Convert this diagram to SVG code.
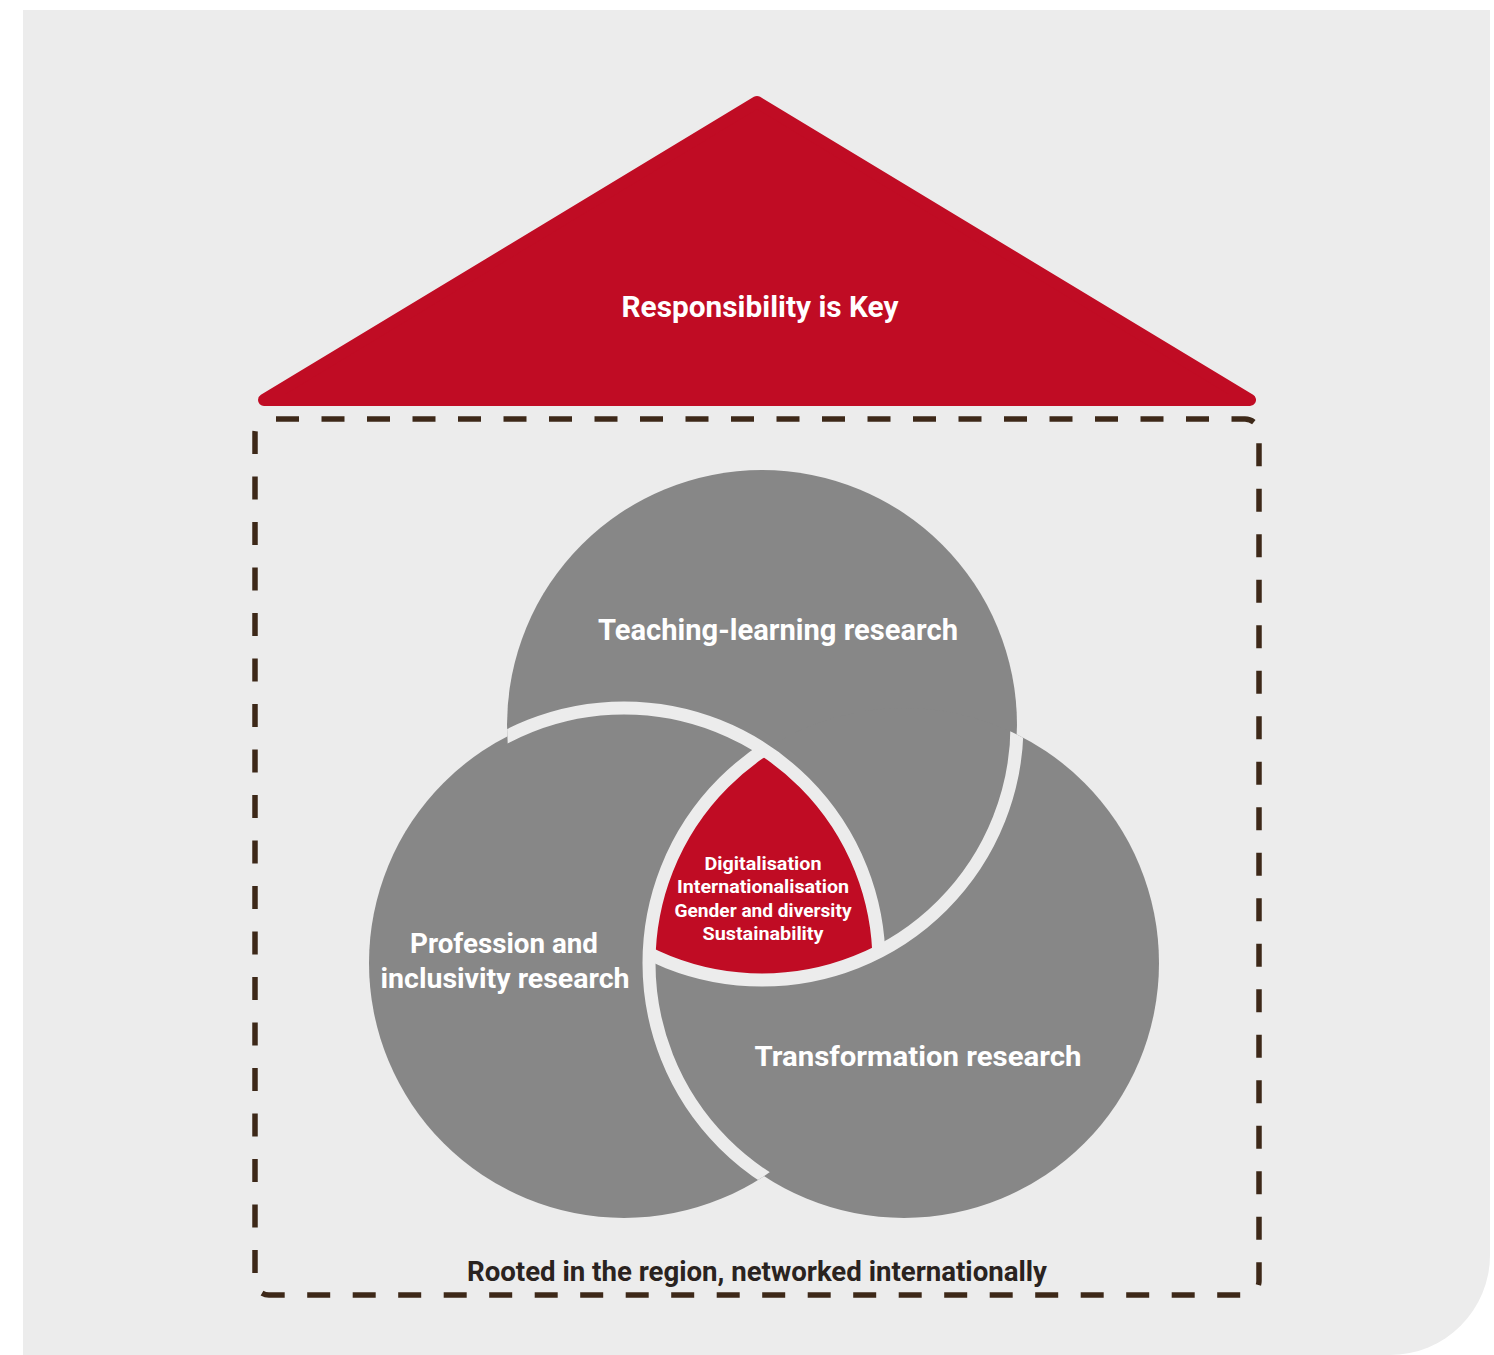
<svg xmlns="http://www.w3.org/2000/svg" width="1494" height="1355" viewBox="0 0 1494 1355">
  <style>
    .lbl { font-family: Roboto, "Liberation Sans", sans-serif; font-weight: 700; fill: #ffffff; text-anchor: middle; }
    .big { font-size: 30px; }
    .mid { font-size: 28px; }
    .small { font-size: 18px; }
    .foot { font-family: Roboto, "Liberation Sans", sans-serif; font-weight: 700; font-size: 27px; fill: #2a2320; text-anchor: middle; }
    .disc { fill: #878787; }
    .ring { fill: none; stroke: #ececec; stroke-width: 13; }
  </style>
  <defs>
    <clipPath id="in-top"><circle cx="762" cy="725" r="255"/></clipPath>
    <clipPath id="in-left"><circle cx="624" cy="963" r="255"/></clipPath>
    <clipPath id="in-right"><circle cx="904" cy="963" r="255"/></clipPath>
  </defs>

  <!-- page panel with rounded lower-right corner -->
  <path id="panel" d="M23,10 H1490 V1255 A100,100 0 0 1 1390,1355 H23 Z" fill="#ececec"/>

  <!-- roof -->
  <g id="roof">
    <polygon points="264,400 757,102 1250,400" fill="#c00c24" stroke="#c00c24" stroke-width="12" stroke-linejoin="round"/>
    <text class="lbl big" x="760" y="317" textLength="277" lengthAdjust="spacingAndGlyphs">Responsibility is Key</text>
  </g>

  <!-- dashed frame -->
  <g id="frame">
    <rect x="255" y="419" width="1004" height="876" rx="14" fill="none" stroke="#3d2818" stroke-width="5.5" stroke-dasharray="23 22.5" stroke-dashoffset="38.5"/>
    <text class="foot" x="757" y="1281" textLength="580" lengthAdjust="spacingAndGlyphs">Rooted in the region, networked internationally</text>
  </g>

  <!-- three interlocking research circles -->
  <g id="circle-teaching">
    <circle class="disc" cx="762" cy="725" r="255"/>
  </g>
  <g id="circle-profession">
    <circle class="disc" cx="624" cy="963" r="255"/>
  </g>
  <g id="circle-transformation">
    <circle class="disc" cx="904" cy="963" r="255"/>
  </g>

  <!-- shared core -->
  <g id="core">
    <path d="M764,749.9 A255,255 0 0 1 878.8,951.7 A255,255 0 0 1 649.2,953.7 A255,255 0 0 1 764,749.9 Z" fill="#c00c24"/>
  </g>

  <!-- woven gaps: each outline shows only over the circle it lies above -->
  <g id="weave">
    <circle class="ring" cx="762" cy="725" r="255" clip-path="url(#in-right)"/>
    <circle class="ring" cx="624" cy="963" r="255" clip-path="url(#in-top)"/>
    <circle class="ring" cx="904" cy="963" r="255" clip-path="url(#in-left)"/>
  </g>

  <g id="labels">
    <text class="lbl big" x="778" y="640" textLength="360" lengthAdjust="spacingAndGlyphs">Teaching-learning research</text>
    <text class="lbl mid" x="504" y="953" textLength="188" lengthAdjust="spacingAndGlyphs">Profession and</text>
    <text class="lbl mid" x="505" y="988" textLength="249" lengthAdjust="spacingAndGlyphs">inclusivity research</text>
    <text class="lbl mid" x="918" y="1066" textLength="327" lengthAdjust="spacingAndGlyphs">Transformation research</text>
    <text class="lbl small" x="763" y="870" textLength="117" lengthAdjust="spacingAndGlyphs">Digitalisation</text>
    <text class="lbl small" x="763" y="893" textLength="172" lengthAdjust="spacingAndGlyphs">Internationalisation</text>
    <text class="lbl small" x="763" y="917" textLength="177" lengthAdjust="spacingAndGlyphs">Gender and diversity</text>
    <text class="lbl small" x="763" y="940" textLength="121" lengthAdjust="spacingAndGlyphs">Sustainability</text>
  </g>

  <g id="connectors"/>
</svg>
